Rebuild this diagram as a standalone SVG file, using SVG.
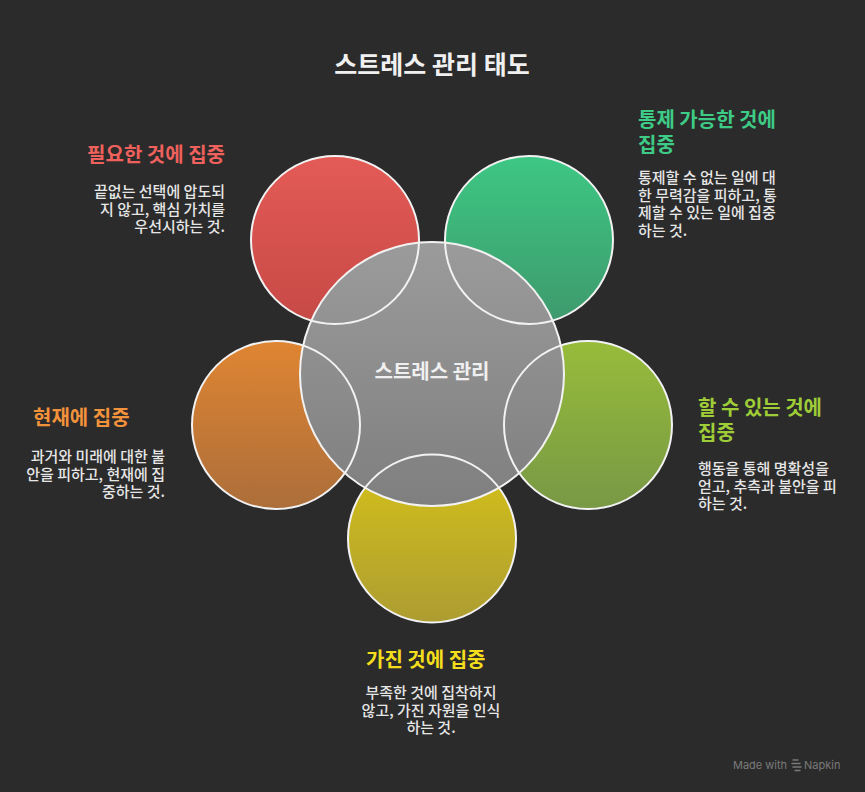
<svg xmlns="http://www.w3.org/2000/svg" width="865" height="792" viewBox="0 0 865 792">
<style>
text{font-family:"Noto Sans CJK KR","Noto Sans",sans-serif}
.title{font-size:25px;font-weight:700;fill:#f0f0f0}
.head{font-size:20px;font-weight:700}
.body{font-size:15px;font-weight:500;fill:#e6e6e6}
.ring{fill:none;stroke:#f2f2f2;stroke-width:2}
.wm{font-size:11px;fill:#7a7a7a;font-family:"Inter","Liberation Sans",sans-serif}
</style>
<defs>
<linearGradient id="gRed" x1="0" y1="0" x2="0" y2="1"><stop offset="0" stop-color="#e45b56"/><stop offset="1" stop-color="#c64946"/></linearGradient>
<linearGradient id="gGreen" x1="0" y1="0" x2="0" y2="1"><stop offset="0" stop-color="#3dc784"/><stop offset="1" stop-color="#3e996c"/></linearGradient>
<linearGradient id="gOrange" x1="0" y1="0" x2="0" y2="1"><stop offset="0" stop-color="#df8532"/><stop offset="1" stop-color="#ac6e3a"/></linearGradient>
<linearGradient id="gLime" x1="0" y1="0" x2="0" y2="1"><stop offset="0" stop-color="#97bc3a"/><stop offset="1" stop-color="#789845"/></linearGradient>
<linearGradient id="gYellow" x1="0" y1="0" x2="0" y2="1"><stop offset="0" stop-color="#d6c218"/><stop offset="1" stop-color="#ad9d32"/></linearGradient>
<linearGradient id="gGray" x1="0" y1="0" x2="0" y2="1"><stop offset="0" stop-color="#9b9b9b"/><stop offset="1" stop-color="#7f7f7f"/></linearGradient>
</defs>
<rect width="865" height="792" fill="#2b2b2b"/>
<text class="title" x="432" y="74" text-anchor="middle">스트레스 관리 태도</text>

<g id="fills">
<circle cx="335" cy="240" r="84" fill="url(#gRed)"/>
<circle cx="529" cy="240" r="84" fill="url(#gGreen)"/>
<circle cx="276" cy="425" r="84" fill="url(#gOrange)"/>
<circle cx="588" cy="425" r="84" fill="url(#gLime)"/>
<circle cx="432" cy="538.5" r="84" fill="url(#gYellow)"/>
<circle cx="432" cy="374" r="132" fill="url(#gGray)"/>
</g>

<g id="connectors"></g>

<g id="node-center">
<circle class="ring" cx="432" cy="374" r="132"/>
<text x="432" y="379" text-anchor="middle" style="font-size:20px;font-weight:700;fill:#f0f0f0">스트레스 관리</text>
</g>

<g id="node-necessary">
<circle class="ring" cx="335" cy="240" r="84"/>
<text class="head" x="225" y="162" text-anchor="end" fill="#ef615c">필요한 것에 집중</text>
<text class="body" text-anchor="end"><tspan x="225" y="197">끝없는 선택에 압도되</tspan><tspan x="225" y="214.5">지 않고, 핵심 가치를</tspan><tspan x="225" y="232">우선시하는 것.</tspan></text>
</g>

<g id="node-control">
<circle class="ring" cx="529" cy="240" r="84"/>
<text class="head" fill="#3ecb86"><tspan x="638" y="127">통제 가능한 것에</tspan><tspan x="638" y="152">집중</tspan></text>
<text class="body"><tspan x="638" y="183">통제할 수 없는 일에 대</tspan><tspan x="638" y="200.5">한 무력감을 피하고, 통</tspan><tspan x="638" y="218">제할 수 있는 일에 집중</tspan><tspan x="638" y="235.5">하는 것.</tspan></text>
</g>

<g id="node-present">
<circle class="ring" cx="276" cy="425" r="84"/>
<text class="head" x="33" y="425" fill="#f2923a">현재에 집중</text>
<text class="body" text-anchor="end"><tspan x="165" y="462">과거와 미래에 대한 불</tspan><tspan x="165" y="479.5">안을 피하고, 현재에 집</tspan><tspan x="165" y="497">중하는 것.</tspan></text>
</g>

<g id="node-cando">
<circle class="ring" cx="588" cy="425" r="84"/>
<text class="head" fill="#9fcd38"><tspan x="698" y="415">할 수 있는 것에</tspan><tspan x="698" y="440">집중</tspan></text>
<text class="body"><tspan x="698" y="474">행동을 통해 명확성을</tspan><tspan x="698" y="491.5">얻고, 추측과 불안을 피</tspan><tspan x="698" y="509">하는 것.</tspan></text>
</g>

<g id="node-have">
<circle class="ring" cx="432" cy="538.5" r="84"/>
<text class="head" x="366" y="667" fill="#f4de1c">가진 것에 집중</text>
<text class="body" text-anchor="middle"><tspan x="431" y="698">부족한 것에 집착하지</tspan><tspan x="431" y="715.5">않고, 가진 자원을 인식</tspan><tspan x="431" y="733">하는 것.</tspan></text>
</g>

<g id="watermark">
<text class="wm" x="733" y="769">Made with</text>
<g fill="none" stroke="#7a7a7a" stroke-width="1.4" stroke-linecap="round">
<path d="M793 760 l5 0 M792 763.5 l8 0 M793 767 l8 0 M795 770.5 l5 0"/>
</g>
<text class="wm" x="804" y="769">Napkin</text>
</g>
</svg>
